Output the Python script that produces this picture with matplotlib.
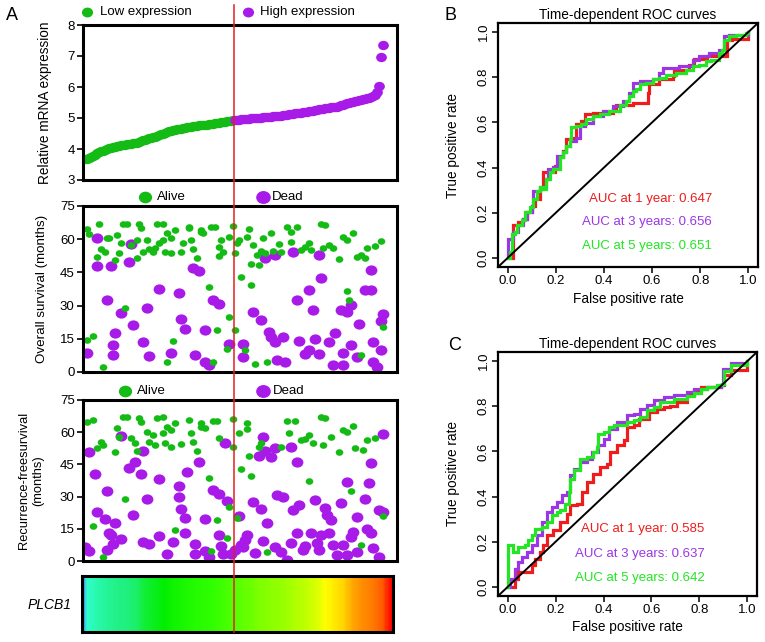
import numpy as np
import matplotlib
matplotlib.use('Agg')
import matplotlib.pyplot as plt
from matplotlib import colors, transforms
from matplotlib.lines import Line2D
from matplotlib.path import Path

plt.rcParams['font.family'] = ['Liberation Sans', 'DejaVu Sans']

# --- panel A: PLCB1 expression per patient, sorted (rank 1..150) ---
expr = [3.67, 3.69, 3.72, 3.75, 3.79, 3.82, 3.86, 3.89, 3.92, 3.95,
        3.98, 4.00, 4.02, 4.04, 4.06, 4.08, 4.10, 4.11, 4.12, 4.13,
        4.14, 4.15, 4.16, 4.17, 4.18, 4.19, 4.20, 4.22, 4.25, 4.28,
        4.30, 4.32, 4.34, 4.36, 4.38, 4.40, 4.42, 4.44, 4.47, 4.50,
        4.53, 4.55, 4.57, 4.59, 4.61, 4.62, 4.63, 4.65, 4.66, 4.68,
        4.69, 4.70, 4.71, 4.72, 4.73, 4.74, 4.75, 4.76, 4.77, 4.78,
        4.78, 4.79, 4.80, 4.81, 4.82, 4.83, 4.84, 4.85, 4.86, 4.87,
        4.88, 4.89, 4.90, 4.91, 4.92, 4.93, 4.94, 4.95, 4.96, 4.97,
        4.97, 4.98, 4.98, 4.99, 4.99, 5.00, 5.00, 5.01, 5.01, 5.02,
        5.02, 5.03, 5.03, 5.04, 5.05, 5.05, 5.06, 5.07, 5.08, 5.09,
        5.10, 5.11, 5.12, 5.13, 5.14, 5.15, 5.15, 5.16, 5.17, 5.18,
        5.19, 5.20, 5.21, 5.22, 5.23, 5.25, 5.27, 5.28, 5.29, 5.30,
        5.31, 5.32, 5.33, 5.34, 5.35, 5.36, 5.37, 5.39, 5.41, 5.43,
        5.45, 5.47, 5.49, 5.51, 5.53, 5.55, 5.56, 5.57, 5.58, 5.60,
        5.62, 5.64, 5.66, 5.68, 5.70, 5.75, 5.85, 6.03, 6.97, 7.37]
cutoff_rank = 75.5

# overall survival (rank, months)
os_alive_rank = [2, 3, 8, 7, 9, 11, 12, 13, 16, 17, 18, 19, 20, 22, 24, 27, 27, 28, 29, 30,
                 32, 33, 35, 36, 37, 38, 40, 40, 41, 42, 44, 44, 46, 45, 49, 50, 53, 53, 54, 55,
                 57, 59, 59, 60, 63, 64, 66, 67, 68, 68, 69, 70, 73, 72, 73, 75, 76, 77, 76, 65,
                 42, 10, 2, 5, 21, 81,
                 78, 83, 82, 84, 85, 79, 84, 87, 88, 89, 90, 91, 94, 95, 98, 99, 102, 104, 107, 104,
                 109, 111, 113, 114, 119, 121, 120, 123, 125, 128, 130, 132, 135, 132, 133, 137, 139, 141, 142, 146,
                 149, 150, 139, 86, 92]
os_alive_months = [64.5, 62.5, 66.9, 52, 55.4, 54, 60.4, 60.4, 50.6, 62, 53.6, 58.1, 66.9, 66.7, 57.4, 59.6, 51.3, 67, 65.2, 54.4,
                   59.6, 55.4, 54.4, 55.9, 66.7, 58.1, 67, 59.6, 54.4, 62.7, 53.6, 60.4, 64.2, 14, 54.4, 58.1, 65.7, 65, 59.6, 55.4,
                   51.3, 63.4, 64.2, 62.7, 38.5, 65.4, 65.4, 18.9, 56.6, 52.4, 59.6, 54.4, 24.9, 10.6, 61.2, 66, 53.6, 58.1, 18.9, 4.5,
                   4.5, 2.3, 14.3, 16.2, 28.7, 9.8,
                   59.6, 64.5, 61.2, 48.7, 57.4, 42.7, 39.2, 52.8, 48.3, 54.7, 60.4, 53.6, 62.7, 54.8, 57.8, 54, 65.7, 63.4, 65.7, 58.9,
                   55.1, 56.6, 58.1, 55.1, 67, 66.4, 55.9, 57.4, 55.9, 50.9, 61.2, 59.6, 62.7, 36.7, 32.5, 52.1, 52.8, 51.3, 55.9, 57,
                   59.3, 20.4, 7.5, 3.8, 4.5]
os_dead_rank = [7, 14, 23, 7, 24, 12, 19, 16, 25, 15, 15, 2, 30, 33, 32, 38, 44, 48, 49, 51,
                55, 58, 56, 61, 61, 63, 65, 68, 73, 80, 80, 85, 89, 93, 94, 96, 100, 97, 101, 91,
                96, 105, 107, 113, 115, 108, 111, 113, 116, 118, 119, 118, 123, 126, 125, 130, 129, 130, 134, 134,
                138, 137, 132, 144, 144, 145, 145, 147, 149, 149, 150, 141]
os_dead_months = [47.9, 47.9, 49.8, 60.4, 57.8, 32.5, 26.7, 17.4, 21.1, 12.1, 7.9, 8.8, 13.6, 7.2, 28.7, 37.7, 8.6, 35.8, 23.9, 19.6,
                  46.8, 45.8, 7.5, 19.2, 4.5, 3, 32.5, 30.6, 12.5, 12.5, 6.8, 27.2, 23.4, 18.1, 15.9, 13.6, 15.9, 5.6, 4.5, 51.3,
                  52.8, 54.4, 32.5, 37, 28.2, 14, 8, 9.8, 15.1, 8.3, 42.3, 52.8, 13.6, 17.4, 3.3, 3, 27.9, 8.6, 30.2, 12.1,
                  21.9, 6.8, 27.2, 37, 46, 13.6, 4.5, 2.3, 10.1, 23.1, 26.4, 37]

# recurrence-free survival (rank, months)
rfs_alive_rank = [2, 5, 7, 9, 10, 5, 10, 17, 16, 18, 20, 22, 21, 24, 26, 27, 28, 29, 32, 33,
                  35, 36, 37, 40, 40, 41, 42, 44, 44, 46, 46, 49, 53, 54, 55, 57, 59, 59, 61, 63,
                  64, 65, 67, 67, 68, 73, 72, 75, 75, 77, 78, 82, 82, 83, 79, 84, 88, 89, 92, 99,
                  102, 103, 106, 109, 111, 113, 115, 113, 119, 121, 120, 124, 128, 130, 132, 134, 135, 136, 139, 140,
                  142, 146, 150]
rfs_alive_months = [64.8, 65.7, 52.5, 55.6, 54, 16.3, 2, 61.8, 51, 57.9, 67.2, 66.9, 28.9, 57.1, 54.8, 51.4, 66.5, 64.9, 60.3, 55.6,
                    58.7, 54, 66.5, 59.5, 67.2, 54.8, 62.6, 61, 53.3, 64.1, 14.4, 54.5, 65.7, 59.5, 55.6, 51.4, 62.6, 64.1, 61.8, 38.8,
                    4.8, 65.4, 65.4, 19.1, 57.1, 25, 10.6, 66, 53.3, 19.9, 59.5, 64.4, 61.3, 48.9, 42.7, 39.6, 53.3, 54.8, 4.3, 53.3,
                    65.4, 59.8, 65.4, 56.4, 56.7, 58.7, 55.1, 37.4, 67.2, 66.5, 54, 57.9, 50.9, 61, 60.3, 32.8, 62.9, 52.5, 7.5, 51.7,
                    56.4, 57.1, 21]
rfs_dead_rank = [1, 3, 3, 6, 7, 11, 12, 13, 14, 15, 16, 12, 19, 19, 23, 25, 26, 29, 30, 30,
                 33, 32, 38, 38, 42, 45, 48, 48, 49, 51, 51, 52, 56, 56, 58, 61, 61, 63, 65, 68,
                 68, 69, 70, 71, 72, 74, 76, 78, 79, 81, 82, 80, 86, 85, 89, 90, 88, 91, 94, 92,
                 90, 96, 97, 100, 96, 99, 102, 104, 104, 107, 105, 107, 108, 110, 111, 114, 116, 117, 118, 119,
                 121, 122, 124, 123, 125, 127, 129, 130, 132, 132, 134, 135, 137, 137, 141, 142, 144, 143, 144, 145,
                 148, 150, 148, 150]
rfs_dead_months = [6.7, 4.8, 50.9, 40.4, 23, 19.4, 32.8, 13.2, 12.1, 7.9, 17.9, 5.1, 58.2, 10.2, 43.2, 21.4, 46.3, 40.4, 51.4, 9,
                   7.8, 28.7, 38, 11.6, 3.1, 8.7, 34.9, 30, 24.2, 19.9, 13.2, 41.6, 7.8, 3.3, 46, 19.4, 4.8, 2, 33, 31.2,
                   12.1, 7, 3.1, 54.8, 28.1, 3.3, 5.1, 21, 7.5, 9.8, 12.1, 6.7, 3.9, 27.6, 24.1, 57.9, 48.9, 51.4, 48.3, 17.5,
                   9.3, 52.8, 30.8, 30, 6.7, 4.3, 0.5, 8.2, 53.3, 46.3, 23.8, 13.2, 26.1, 5.1, 7, 13.2, 28.4, 8.2, 5.1, 12.1,
                   24.5, 21.4, 19.1, 13.2, 7.5, 2.8, 26.9, 7.5, 2.8, 37, 11.3, 13.7, 20.3, 4.3, 28.7, 14.8, 13.2, 36.2, 45.8, 5.9,
                   2, 59.2, 23.8, 23]

# --- panel B: time-dependent ROC, OS ---
b_red_fpr = [0, 0.023, 0.023, 0.044, 0.065, 0.079, 0.10, 0.113, 0.134, 0.148, 0.168, 0.196, 0.21, 0.23, 0.244, 0.272, 0.286, 0.306, 0.32, 0.354,
             0.41, 0.437, 0.451, 0.492, 0.52, 0.568, 0.582, 0.589, 0.63, 0.686, 0.692, 0.741, 0.754, 0.775, 0.823, 0.83, 0.906, 0.913, 0.934, 0.996, 1.0]
b_red_tpr = [0, 0, 0.144, 0.159, 0.173, 0.203, 0.232, 0.261, 0.305, 0.379, 0.379, 0.408, 0.445, 0.474, 0.526, 0.533, 0.592, 0.606, 0.636, 0.643,
             0.643, 0.658, 0.675, 0.675, 0.687, 0.687, 0.731, 0.768, 0.79, 0.805, 0.834, 0.834, 0.856, 0.881, 0.881, 0.896, 0.896, 0.966, 0.969, 0.969, 1.0]
b_pur_fpr = [0, 0.003, 0.023, 0.044, 0.065, 0.079, 0.10, 0.106, 0.134, 0.161, 0.168, 0.189, 0.203, 0.23, 0.244, 0.258, 0.286, 0.299, 0.32, 0.354,
             0.396, 0.437, 0.479, 0.506, 0.52, 0.548, 0.603, 0.63, 0.644, 0.713, 0.768, 0.796, 0.837, 0.879, 0.899, 0.92, 1.0]
b_pur_tpr = [0.012, 0.085, 0.115, 0.144, 0.173, 0.203, 0.232, 0.298, 0.313, 0.35, 0.394, 0.401, 0.452, 0.467, 0.496, 0.518, 0.533, 0.584, 0.599, 0.628,
             0.65, 0.672, 0.695, 0.731, 0.775, 0.783, 0.79, 0.819, 0.841, 0.849, 0.878, 0.893, 0.907, 0.922, 0.981, 0.988, 1.0]
b_grn_fpr = [0, 0.01, 0.017, 0.03, 0.037, 0.058, 0.072, 0.092, 0.106, 0.12, 0.134, 0.148, 0.161, 0.175, 0.189, 0.217, 0.23, 0.244, 0.258, 0.265,
             0.286, 0.306, 0.327, 0.354, 0.382, 0.423, 0.465, 0.492, 0.506, 0.52, 0.534, 0.548, 0.575, 0.603, 0.63, 0.658, 0.699, 0.741, 0.768, 0.796,
             0.823, 0.844, 0.879, 0.892, 0.899, 0.92, 0.948, 0.989, 1.0]
b_grn_tpr = [0, 0.026, 0.107, 0.115, 0.144, 0.166, 0.203, 0.225, 0.26, 0.298, 0.313, 0.305, 0.35, 0.379, 0.394, 0.445, 0.467, 0.496, 0.526, 0.581,
             0.584, 0.592, 0.614, 0.628, 0.636, 0.65, 0.675, 0.695, 0.717, 0.739, 0.746, 0.768, 0.775, 0.79, 0.797, 0.812, 0.819, 0.834, 0.849, 0.856,
             0.871, 0.878, 0.907, 0.922, 0.966, 0.981, 0.988, 0.996, 1.0]
b_auc = [0.647, 0.656, 0.651]

# --- panel C: time-dependent ROC, RFS ---
c_red_fpr = [0, 0.024, 0.031, 0.045, 0.079, 0.10, 0.114, 0.135, 0.149, 0.163, 0.191, 0.219, 0.247, 0.261, 0.289, 0.31, 0.331, 0.358, 0.386, 0.414,
             0.428, 0.456, 0.484, 0.498, 0.526, 0.547, 0.575, 0.589, 0.623, 0.651, 0.679, 0.707, 0.749, 0.777, 0.805, 0.888, 0.902, 0.93, 1.0]
c_red_tpr = [0, 0, 0.037, 0.066, 0.066, 0.096, 0.125, 0.155, 0.184, 0.229, 0.251, 0.288, 0.324, 0.361, 0.369, 0.42, 0.465, 0.501, 0.531, 0.546,
             0.597, 0.627, 0.649, 0.708, 0.715, 0.745, 0.745, 0.774, 0.789, 0.796, 0.801, 0.819, 0.848, 0.87, 0.885, 0.892, 0.937, 0.959, 0.981]
c_pur_fpr = [0, 0.01, 0.031, 0.045, 0.059, 0.079, 0.10, 0.121, 0.142, 0.163, 0.184, 0.205, 0.226, 0.247, 0.261, 0.275, 0.303, 0.331, 0.351, 0.379,
             0.40, 0.421, 0.456, 0.498, 0.526, 0.554, 0.582, 0.609, 0.651, 0.693, 0.749, 0.777, 0.833, 0.888, 0.90, 0.93, 1.0]
c_pur_tpr = [0, 0.037, 0.081, 0.111, 0.133, 0.155, 0.184, 0.229, 0.288, 0.332, 0.354, 0.376, 0.406, 0.42, 0.494, 0.524, 0.553, 0.568, 0.597, 0.627,
             0.656, 0.701, 0.73, 0.76, 0.767, 0.789, 0.804, 0.826, 0.841, 0.848, 0.863, 0.878, 0.885, 0.895, 0.966, 0.99, 1.0]
c_grn_fpr = [0, 0.003, 0.024, 0.045, 0.073, 0.086, 0.10, 0.114, 0.142, 0.163, 0.184, 0.205, 0.219, 0.24, 0.254, 0.261, 0.275, 0.303, 0.331, 0.358,
             0.372, 0.379, 0.40, 0.421, 0.442, 0.498, 0.526, 0.554, 0.582, 0.609, 0.637, 0.693, 0.749, 0.777, 0.805, 0.833, 0.874, 0.895, 0.902, 0.93, 1.0]
c_grn_tpr = [0, 0.184, 0.155, 0.177, 0.184, 0.206, 0.229, 0.258, 0.265, 0.288, 0.317, 0.332, 0.339, 0.369, 0.42, 0.479, 0.516, 0.568, 0.575, 0.597,
             0.619, 0.678, 0.686, 0.708, 0.715, 0.73, 0.737, 0.752, 0.782, 0.796, 0.819, 0.833, 0.845, 0.86, 0.878, 0.885, 0.895, 0.9, 0.954, 0.981, 1.0]
c_auc = [0.585, 0.637, 0.642]

auc_labels = ['AUC at 1 year: ', 'AUC at 3 years: ', 'AUC at 5 years: ']

GREEN_DOT = '#14bb14'
PURPLE_DOT = '#a81ae8'
ROC_COLS = ['#ee1c1c', '#9b35e6', '#22e622']

# slightly wide ellipse marker, like the stretched R points
ell = Path.unit_circle().transformed(transforms.Affine2D().scale(1.15, 1.0))

fig = plt.figure(figsize=(7.65, 6.42), dpi=100)
W, H = 765.0, 642.0


def px_axes(l, t, r, b):
    return fig.add_axes([l / W, 1 - b / H, (r - l) / W, (b - t) / H])


def style_a(ax, ymin, ymax, step):
    ax.set_xlim(0, 157)
    ax.set_ylim(ymin, ymax)
    ax.set_xticks([])
    ax.set_yticks(np.arange(ymin, ymax + 0.1, step))
    for s in ax.spines.values():
        s.set_linewidth(2.2)
    ax.tick_params(axis='y', length=4, width=1.2, labelsize=9.5, pad=2)


def legend_a(ax, y, items):
    for xd, xt, col, ms, lab in items:
        ax.plot([xd], [y], marker=ell, color=col, ms=ms, ls='none',
                transform=ax.transAxes, clip_on=False)
        ax.text(xt, y, lab, transform=ax.transAxes, ha='left', va='center', fontsize=9.5)


ranks = np.arange(1, len(expr) + 1)
expr_arr = np.array(expr)
low = ranks <= cutoff_rank

# top: expression
ax1 = px_axes(83, 25, 397, 180)
ax1.scatter(ranks[low], expr_arr[low], s=60, color=GREEN_DOT, linewidths=0, marker=ell)
ax1.scatter(ranks[~low], expr_arr[~low], s=60, color=PURPLE_DOT, linewidths=0, marker=ell)
style_a(ax1, 3, 8, 1)
ax1.set_ylabel('Relative mRNA expression', fontsize=9.8)
ax1.yaxis.set_label_coords(-0.099, 0.5)
legend_a(ax1, 1.084, [(0.013, 0.054, GREEN_DOT, 7, 'Low expression'),
                      (0.525, 0.564, PURPLE_DOT, 7, 'High expression')])

# overall survival
ax2 = px_axes(83, 206, 397, 372)
ax2.scatter(os_dead_rank, os_dead_months, s=72, color=PURPLE_DOT, linewidths=0, marker=ell)
ax2.scatter(os_alive_rank, os_alive_months, s=30, color=GREEN_DOT, linewidths=0, marker=ell)
style_a(ax2, 0, 75, 15)
ax2.set_ylabel('Overall survival (months)', fontsize=9.6)
ax2.yaxis.set_label_coords(-0.111, 0.5)
legend_a(ax2, 1.054, [(0.197, 0.236, GREEN_DOT, 8.5, 'Alive'),
                      (0.573, 0.602, PURPLE_DOT, 9.5, 'Dead')])

# recurrence-free survival
ax3 = px_axes(83, 400, 397, 561)
ax3.scatter(rfs_dead_rank, rfs_dead_months, s=72, color=PURPLE_DOT, linewidths=0, marker=ell)
ax3.scatter(rfs_alive_rank, rfs_alive_months, s=30, color=GREEN_DOT, linewidths=0, marker=ell)
style_a(ax3, 0, 75, 15)
ax3.set_ylabel('Recurrence-freesurvival\n(months)', fontsize=9.3, linespacing=1.25)
ax3.yaxis.set_label_coords(-0.125, 0.5)
legend_a(ax3, 1.056, [(0.134, 0.172, GREEN_DOT, 8.5, 'Alive'),
                      (0.573, 0.605, PURPLE_DOT, 9.5, 'Dead')])

# colour strip
cmap_vals = [3.67, 3.69, 4.14, 4.31, 4.5, 4.8, 4.95, 5.02, 5.15, 5.28, 5.45, 5.7, 5.85, 7.37]
cmap_cols = ['#5050ff', '#30ffd0', '#20f080', '#10ee30', '#00ee00', '#30ff00', '#60ff00',
             '#88ff00', '#b8ff00', '#ffff00', '#ffa800', '#ff6000', '#ff3000', '#ff0000']
vmin, vmax = min(expr), max(expr)
pos = [(v - vmin) / (vmax - vmin) for v in cmap_vals]
cmap = colors.LinearSegmentedColormap.from_list('plcb1', list(zip(pos, cmap_cols)))
ax4 = px_axes(82, 576, 393, 632)
ax4.imshow(expr_arr[None, :], cmap=cmap, vmin=vmin, vmax=vmax, aspect='auto',
           extent=(0.5, len(expr) + 0.5, 0, 1), interpolation='bilinear')
ax4.set_xticks([])
ax4.set_yticks([])
for s in ax4.spines.values():
    s.set_linewidth(2.2)
fig.text(50 / W, 1 - 605 / H, 'PLCB1', style='italic', fontsize=10, ha='center', va='center')

# red cut-off line through panel A
blend = transforms.blended_transform_factory(ax1.transData, fig.transFigure)
fig.add_artist(Line2D([cutoff_rank, cutoff_rank], [1 - 5 / H, 1 - 632 / H], transform=blend,
                      color='#e0201e', lw=1.1, zorder=10))


def roc_panel(ax, curves, aucs, text_x, text_ys):
    for (f, t), col in zip(curves, ROC_COLS):
        ax.plot(f, t, drawstyle='steps-post', color=col, lw=2.3, solid_joinstyle='miter')
    ax.axline((0, 0), (1, 1), color='black', lw=1.4)
    ax.set_xlim(-0.04, 1.04)
    ax.set_ylim(-0.04, 1.04)
    ticks = np.arange(0, 1.01, 0.2)
    ax.set_xticks(ticks)
    ax.set_yticks(ticks)
    ax.set_xticklabels(['%.1f' % v for v in ticks])
    ax.set_yticklabels(['%.1f' % v for v in ticks], rotation=90, va='center')
    ax.tick_params(length=4, width=1.1, labelsize=9.5, pad=2)
    for s in ax.spines.values():
        s.set_linewidth(1.6)
    ax.set_title('Time-dependent ROC curves', fontsize=9.8, pad=3)
    ax.set_xlabel('False positive rate', fontsize=9.8, labelpad=3)
    ax.set_ylabel('True positive rate', fontsize=9.8)
    ax.yaxis.set_label_coords(-0.146, 0.5)
    for lab, a, col, ty in zip(auc_labels, aucs, ROC_COLS, text_ys):
        ax.text(text_x, ty, lab + '%.3f' % a, color=col, fontsize=9.5, ha='right', va='center')


axb = px_axes(498, 23, 758, 267)
roc_panel(axb, [(b_red_fpr, b_red_tpr), (b_pur_fpr, b_pur_tpr), (b_grn_fpr, b_grn_tpr)],
          b_auc, 0.848, [0.261, 0.159, 0.053])

axc = px_axes(498, 352, 757, 596)
roc_panel(axc, [(c_red_fpr, c_red_tpr), (c_pur_fpr, c_pur_tpr), (c_grn_fpr, c_grn_tpr)],
          c_auc, 0.821, [0.255, 0.147, 0.04])

fig.text(12 / W, 1 - 15 / H, 'A', fontsize=13, ha='center', va='center')
fig.text(450 / W, 1 - 15 / H, 'B', fontsize=13, ha='center', va='center')
fig.text(455 / W, 1 - 345 / H, 'C', fontsize=13, ha='center', va='center')

fig.savefig('out.png', dpi=100)
